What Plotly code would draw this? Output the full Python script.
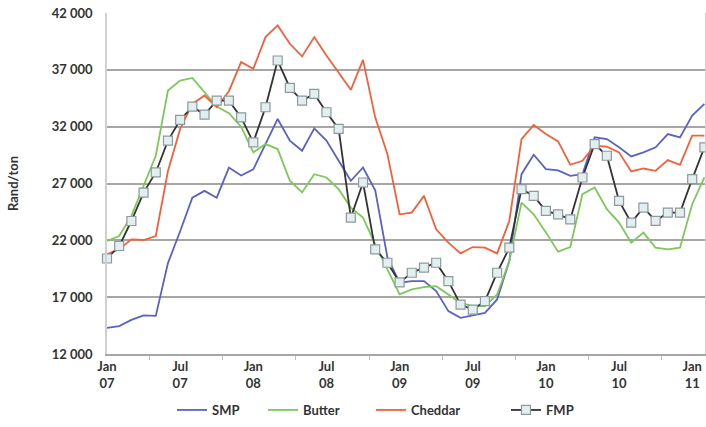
import plotly.graph_objects as go

# Monthly values, Jan 2007 .. Feb 2011 (Rand/ton)
months = list(range(50))
tick_pos = [0, 6, 12, 18, 24, 30, 36, 42, 48]
tick_text = ["Jan<br>07", "Jul<br>07", "Jan<br>08", "Jul<br>08", "Jan<br>09",
             "Jul<br>09", "Jan<br>10", "Jul<br>10", "Jan<br>11"]
y_ticks = [12000, 17000, 22000, 27000, 32000, 37000, 42000]
y_tick_text = ["12 000", "17 000", "22 000", "27 000", "32 000", "37 000", "42 000"]

smp = [14300, 14450, 15000, 15400, 15350, 20000, 22800, 25750, 26350, 25750,
       28400, 27700, 28250, 30470, 32680, 30770, 29880, 31850, 30770, 29000,
       27240, 28410, 26400, 20500, 18270, 18410, 18410, 17530, 15770, 15180,
       15410, 15620, 16800, 20180, 27820, 29530, 28270, 28150, 27680, 27820,
       31060, 30910, 30180, 29380, 29740, 30180, 31350, 31060, 32970, 34000]
butter = [21940, 22380, 24150, 26800, 29440, 35180, 36060, 36290, 35030, 33760,
          33180, 32000, 29740, 30470, 30030, 27240, 26210, 27820, 27530, 26500,
          24880, 24000, 21650, 19440, 17240, 17680, 17880, 17970, 17240, 16500,
          16210, 16210, 17240, 20180, 25320, 24290, 22700, 21000, 21410, 26060,
          26650, 24740, 23560, 21800, 22680, 21350, 21210, 21350, 25180, 27530]
cheddar = [20770, 21210, 22090, 22030, 22380, 28100, 31800, 34000, 34740, 33710,
           35120, 37680, 37090, 39880, 40910, 39290, 38180, 39880, 38260, 36790,
           35240, 37880, 32820, 29590, 24290, 24440, 25910, 22970, 21800, 20850,
           21410, 21350, 20850, 23710, 30910, 32150, 31350, 30700, 28650, 29000,
           30320, 30240, 29740, 28060, 28320, 28120, 29060, 28650, 31210, 31210]
fmp = [20400, 21500, 23700, 26200, 27970, 30770, 32590, 33760, 33060, 34290,
       34290, 32820, 30620, 33710, 37820, 35410, 34290, 34880, 33270, 31800,
       24000, 27090, 21210, 20030, 18300, 19150, 19600, 20030, 18410, 16350,
       15910, 16650, 19150, 21350, 26500, 25910, 24590, 24290, 23850, 27530,
       30470, 29440, 25470, 23560, 24880, 23710, 24440, 24440, 27380, 30180]

FONT = "Lato"
TXT = "#333333"

fig = go.Figure()
fig.add_trace(go.Scatter(x=months, y=smp, name="SMP", mode="lines",
                         line=dict(color="#5A62C4", width=1.8), legend="legend"))
fig.add_trace(go.Scatter(x=months, y=butter, name="Butter", mode="lines",
                         line=dict(color="#7CC95A", width=1.8), legend="legend2"))
fig.add_trace(go.Scatter(x=months, y=cheddar, name="Cheddar", mode="lines",
                         line=dict(color="#F2613C", width=1.8), legend="legend3"))
fig.add_trace(go.Scatter(x=months, y=fmp, name="FMP", mode="lines+markers",
                         line=dict(color="#333333", width=1.8),
                         marker=dict(symbol="square", size=9, color="#E3EEF0",
                                     line=dict(color="#8C9A9C", width=1.2)),
                         cliponaxis=False, legend="legend4"))

W = 706 - 107 - 1
H = 354 - 13
def px_x(p):
    return (p - 107) / W
def px_y(p):
    return (354 - p) / H

leg_common = dict(orientation="h", yanchor="middle", y=px_y(410), xanchor="left",
                  font=dict(family=FONT, size=13, color=TXT, weight="bold"),
                  bgcolor="rgba(0,0,0,0)", itemwidth=30, tracegroupgap=0)

fig.update_layout(
    width=706, height=427,
    margin=dict(l=107, r=1, t=13, b=73, autoexpand=False),
    paper_bgcolor="white", plot_bgcolor="white",
    font=dict(family=FONT, size=13, color=TXT),
    showlegend=True,
    legend=dict(x=px_x(172), **leg_common),
    legend2=dict(x=px_x(263), **leg_common),
    legend3=dict(x=px_x(371), **leg_common),
    legend4=dict(x=px_x(506), **leg_common),
    xaxis=dict(range=[0, 49.05], tickvals=tick_pos, ticktext=tick_text,
               automargin=False,
               showgrid=False, zeroline=False, showline=True,
               linecolor="#A6A6A6", linewidth=1.5, ticks="",
               tickfont=dict(family=FONT, size=13, color=TXT, weight="bold"),
               minor=dict(tickvals=[3.5 + 6 * k for k in range(8)],
                          ticks="outside", ticklen=4, tickcolor="#BFBFBF",
                          showgrid=False)),
    yaxis=dict(range=[12000, 42000], tickvals=y_ticks, ticktext=y_tick_text,
               automargin=False,
               showgrid=True, gridcolor="#A6A6A6", gridwidth=2,
               zeroline=False, showline=True, linecolor="#D0D0D0", linewidth=1.5,
               mirror=True, ticks="", ticklabelstandoff=10,
               tickfont=dict(family=FONT, size=13, color=TXT, weight="bold"),
               title=dict(text="Rand/ton", standoff=30,
                          font=dict(family=FONT, size=13, color=TXT, weight="bold"))),
)

fig.write_html("out.html", config={"displayModeBar": False},
               post_script="document.body.style.margin='0px';"
                           "document.body.style.overflow='hidden';")
